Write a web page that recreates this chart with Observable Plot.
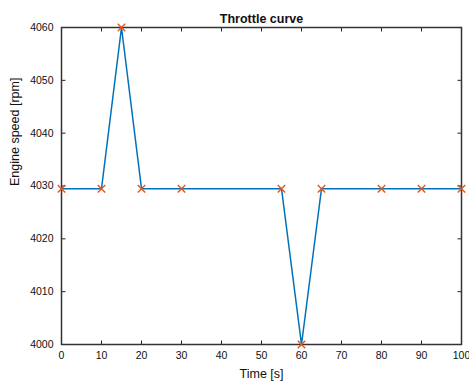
<!DOCTYPE html>
<html><head><meta charset="utf-8">
<script src="https://cdn.jsdelivr.net/npm/d3@7"></script>
<script src="https://cdn.jsdelivr.net/npm/@observablehq/plot@0.6"></script>
<style>body{margin:0;background:#fff}</style>
</head><body><div id="chart"></div>
<script>
const time = [0, 10, 15, 20, 30, 55, 60, 65, 80, 90, 100];
const speed = [4029.5, 4029.5, 4060, 4029.5, 4029.5, 4029.5, 4000, 4029.5, 4029.5, 4029.5, 4029.5];
const xTicks = [0, 10, 20, 30, 40, 50, 60, 70, 80, 90, 100];
const yTicks = [4000, 4010, 4020, 4030, 4040, 4050, 4060];
const data = time.map((t, i) => ({t, v: speed[i]}));
const title = "Throttle curve";
const xLabel = "Time [s]";
const yLabel = "Engine speed [rpm]";

const W = 469, H = 383, ML = 61, MR = 8, MT = 27, MB = 39, tk = 4;
const x0 = xTicks[0], x1 = xTicks[xTicks.length - 1];
const y0 = yTicks[0], y1 = yTicks[yTicks.length - 1];
const tx = (x1 - x0) * tk / (W - ML - MR);   // tick length in x units
const ty = (y1 - y0) * tk / (H - MT - MB);   // tick length in y units

const chart = Plot.plot({
  width: W, height: H,
  marginLeft: ML, marginRight: MR, marginTop: MT, marginBottom: MB,
  style: {fontFamily: "'Liberation Sans', Arial, sans-serif", fontSize: "10px", color: "#111"},
  x: {domain: [x0, x1]},
  y: {domain: [y0, y1]},
  marks: [
    Plot.axisX({ticks: xTicks, tickSize: 0, tickPadding: 7, tickFormat: d => String(d), label: null, fontSize: 10.5}),
    Plot.axisY({ticks: yTicks, tickSize: 0, tickPadding: 8, tickFormat: d => String(d), label: null, fontSize: 10.5}),
    Plot.link(xTicks, {x1: d => d, x2: d => d, y1: y0, y2: y0 + ty, stroke: "#222", strokeWidth: 1}),
    Plot.link(xTicks, {x1: d => d, x2: d => d, y1: y1, y2: y1 - ty, stroke: "#222", strokeWidth: 1}),
    Plot.link(yTicks, {y1: d => d, y2: d => d, x1: x0, x2: x0 + tx, stroke: "#222", strokeWidth: 1}),
    Plot.link(yTicks, {y1: d => d, y2: d => d, x1: x1, x2: x1 - tx, stroke: "#222", strokeWidth: 1}),
    Plot.frame({stroke: "#333", strokeWidth: 1.5}),
    Plot.line(data, {x: "t", y: "v", stroke: "#0072BD", strokeWidth: 1.5}),
    Plot.dot(data, {x: "t", y: "v", symbol: "times", r: 3.5, stroke: "#E0581C", strokeWidth: 1.4}),
    Plot.text([title], {frameAnchor: "top", dy: -13, fontWeight: "bold", fontSize: 12.5, fill: "#111"}),
    Plot.text([xLabel], {frameAnchor: "bottom", dy: 33, fontSize: 12.5, fill: "#111"}),
    Plot.text([yLabel], {frameAnchor: "left", dx: -47, rotate: -90, fontSize: 12.5, fill: "#111"})
  ]
});
document.getElementById("chart").append(chart);
</script>
</body></html>
